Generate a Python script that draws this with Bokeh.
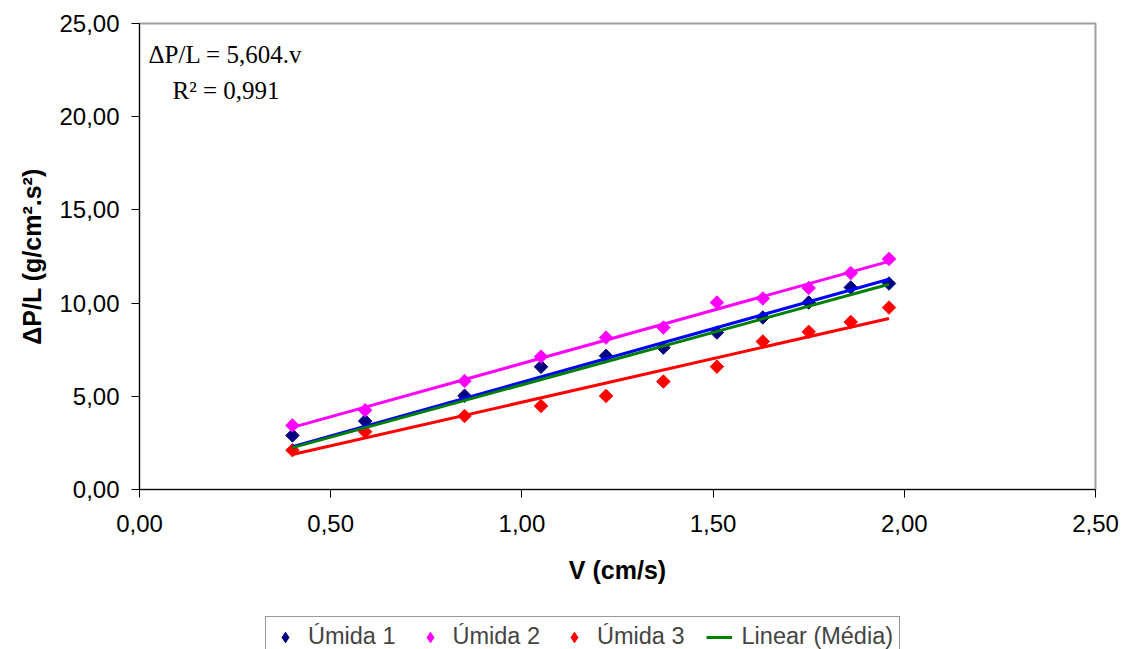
import numpy as np
from bokeh.plotting import figure
from bokeh.layouts import column, row
from bokeh.models import (FixedTicker, CustomJSTickFormatter, Legend, LegendItem, Label, Spacer)
from bokeh.embed import file_html
from bokeh.resources import INLINE

# ---- data ----
v = [0.40, 0.59, 0.85, 1.05, 1.22, 1.37, 1.51, 1.63, 1.75, 1.86, 1.96]
umida1 = [2.90, 3.67, 5.03, 6.58, 7.17, 7.61, 8.42, 9.23, 10.03, 10.84, 11.05]
umida2 = [3.44, 4.25, 5.82, 7.13, 8.15, 8.69, 10.03, 10.25, 10.81, 11.61, 12.37]
umida3 = [2.11, 3.10, 3.94, 4.48, 5.02, 5.79, 6.59, 7.94, 8.46, 8.99, 9.76]
eq_text = "ΔP/L = 5,604.v"
r2_text = "R² = 0,991"
x_ticks = [0.0, 0.5, 1.0, 1.5, 2.0, 2.5]
y_ticks = [0, 5, 10, 15, 20, 25]
names = ["Úmida 1", "Úmida 2", "Úmida 3"]
trend_name = "Linear (Média)"
# trend type per series, as seen in the chart (through origin or not)
through_origin = [True, False, True]

FONT = "Liberation Sans"
marker_colors = ["#000080", "#FF00FF", "#FF0000"]
line_colors = ["#0000FF", "#FF00FF", "#FF0000"]
MEAN_COLOR = "#008000"

p = figure(width=1128, height=616, x_range=(0, 2.5), y_range=(0, 25),
           output_backend="svg", toolbar_location=None,
           min_border_left=139, min_border_right=33, min_border_top=23, min_border_bottom=127)
p.xgrid.visible = False
p.ygrid.visible = False
p.outline_line_color = "#A0A0A0"
p.outline_line_width = 2
p.background_fill_color = "white"
p.border_fill_color = "white"

fmt = CustomJSTickFormatter(code="return tick.toFixed(2).replace('.', ',');")
for ax, ticks in ((p.xaxis, x_ticks), (p.yaxis, y_ticks)):
    ax.ticker = FixedTicker(ticks=ticks)
    ax.formatter = fmt
    ax.minor_tick_line_color = None
    ax.major_tick_in = 0
    ax.major_tick_out = 8
    ax.axis_line_color = "black"
    ax.major_tick_line_color = "black"
    ax.major_label_text_font = FONT
    ax.major_label_text_font_size = "24px"
    ax.major_label_text_color = "black"
    ax.axis_label_text_font = FONT
    ax.axis_label_text_font_size = "25px"
    ax.axis_label_text_font_style = "bold"
    ax.axis_label_text_color = "black"

p.xaxis.axis_label = "V (cm/s)"
p.yaxis.axis_label = "ΔP/L (g/cm².s²)"
p.xaxis.major_label_standoff = 17
p.yaxis.major_label_standoff = 12
p.xaxis.axis_label_standoff = 21
p.yaxis.axis_label_standoff = 10

vx = np.array(v)
series = [umida1, umida2, umida3]

for s, c in zip(series, marker_colors):
    p.scatter(v, s, marker="square", angle=np.pi / 4, size=9.5, fill_color=c, line_color=c)

xs_line = np.array([min(v), max(v)])
for s, c, orig in zip(series, line_colors, through_origin):
    ys = np.array(s)
    if orig:
        m, b = float(np.sum(vx * ys) / np.sum(vx * vx)), 0.0
    else:
        m, b = np.polyfit(vx, ys, 1)
    p.line(xs_line, m * xs_line + b, line_color=c, line_width=3)

mean_y = np.mean(np.array(series), axis=0)
mean_slope = float(np.sum(vx * mean_y) / np.sum(vx * vx))
p.line(xs_line, mean_slope * xs_line, line_color=MEAN_COLOR, line_width=3)

p.add_layout(Label(x=0.0236, y=23.33, text=eq_text, text_font="Liberation Serif",
                   text_font_size="25px", text_baseline="middle", text_color="black"))
p.add_layout(Label(x=0.0864, y=21.4, text=r2_text, text_font="Liberation Serif",
                   text_font_size="25px", text_baseline="middle", text_color="black"))

# ---- legend strip below the chart (its ranges keep the proxy marks out of view) ----
lg = figure(width=1128 - 265, height=33, x_range=(100, 101), y_range=(100, 101),
            output_backend="svg", toolbar_location=None,
            x_axis_location=None, y_axis_location=None, min_border=0)
lg.xgrid.visible = False
lg.ygrid.visible = False
lg.outline_line_color = None
lg.background_fill_color = "white"
lg.border_fill_color = "white"

items = []
for n, s, c in zip(names, series, marker_colors):
    r = lg.scatter(v, s, marker="diamond", size=13, fill_color=c, line_color=c)
    items.append(LegendItem(label=n, renderers=[r]))
rl = lg.line(xs_line, mean_slope * xs_line, line_color=MEAN_COLOR, line_width=3)
items.append(LegendItem(label=trend_name, renderers=[rl]))

legend = Legend(items=items, orientation="horizontal", location="top_left",
                label_text_font=FONT, label_text_font_size="23.5px",
                glyph_width=26, glyph_height=26, label_height=26, label_standoff=10, spacing=21,
                padding=6, margin=0, border_line_color="#333333", border_line_width=1,
                background_fill_color="white")
lg.add_layout(legend, "center")

layout = column(p, row(Spacer(width=265, height=33), lg), spacing=0)

open("out.html", "w").write(file_html(layout, INLINE))
